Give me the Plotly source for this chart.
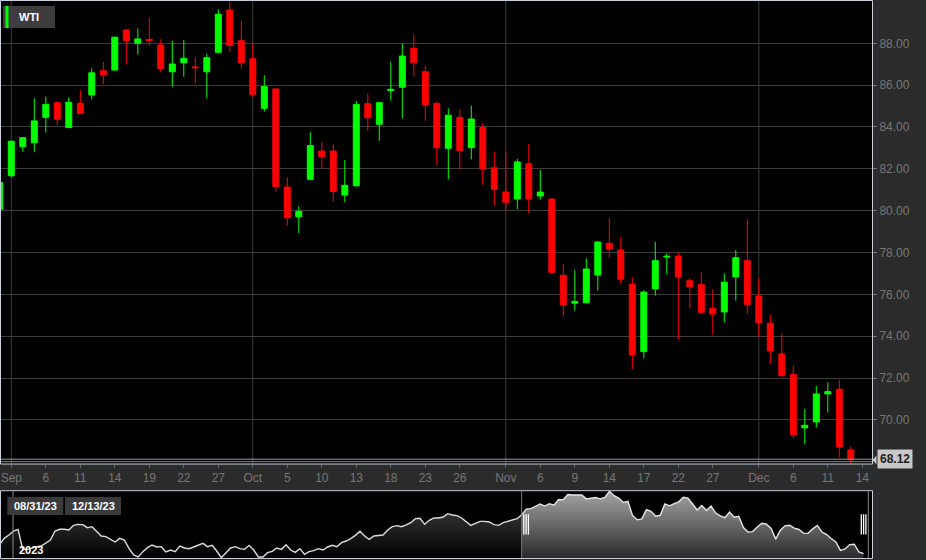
import numpy as np
import pandas as pd
import plotly.graph_objects as go

# ---------------- data ----------------
dates = pd.bdate_range("2023-08-31", "2023-12-13").strftime("%Y-%m-%d").tolist()

opens = [80.07, 81.67, 83.06, 83.25, 84.46, 85.16, 83.97, 85.13, 85.53, 86.69,
         86.72, 88.64, 88.00, 88.18, 87.92, 86.64, 87.07, 86.87, 86.64, 87.57,
         89.59, 88.12, 87.26, 84.89, 85.82, 81.13, 79.71, 81.50, 82.85, 82.85,
         80.75, 81.19, 85.11, 84.13, 85.74, 85.90, 87.76, 86.64, 85.13, 82.98,
         84.46, 83.01, 83.98, 82.05, 80.89, 80.56, 82.24, 80.70, 80.56, 76.91,
         75.58, 75.60, 76.92, 78.44, 78.12, 76.48, 73.26, 76.26, 77.78, 77.83,
         76.65, 76.48, 75.33, 75.16, 76.83, 77.61, 75.92, 74.62, 73.15, 72.18,
         69.62, 69.90, 71.24, 71.46, 68.56]
highs = [81.50, 83.35, 83.52, 85.37, 85.45, 85.20, 85.42, 85.77, 86.80, 87.11,
         88.32, 88.66, 88.72, 89.20, 88.19, 88.11, 88.16, 87.33, 87.49, 89.62,
         89.98, 89.07, 88.00, 86.47, 85.85, 81.59, 80.22, 83.75, 83.27, 83.17,
         82.42, 85.24, 85.58, 85.20, 87.11, 88.00, 88.40, 86.91, 85.21, 84.89,
         84.85, 85.02, 84.18, 82.79, 82.82, 82.47, 83.19, 81.94, 80.60, 77.45,
         77.16, 77.72, 78.56, 79.63, 78.73, 76.81, 76.19, 78.50, 77.96, 78.01,
         76.77, 77.08, 76.24, 77.00, 78.12, 79.59, 76.77, 75.01, 74.14, 72.59,
         70.52, 71.62, 71.80, 71.90, 68.72]
lows = [79.90, 81.60, 82.82, 82.82, 83.73, 84.09, 83.95, 84.60, 85.32, 86.04,
        86.70, 86.99, 87.47, 87.87, 86.61, 85.93, 86.40, 86.09, 85.37, 87.55,
        87.57, 86.80, 85.42, 84.73, 80.91, 79.28, 78.92, 81.45, 82.02, 80.43,
        80.40, 81.15, 83.81, 83.34, 85.26, 84.41, 86.40, 84.30, 82.18, 81.50,
        81.98, 82.45, 81.23, 80.24, 80.00, 80.07, 79.87, 80.54, 77.00, 74.93,
        75.22, 75.58, 76.18, 77.77, 76.48, 72.42, 72.94, 75.94, 76.96, 73.85,
        75.33, 75.12, 74.09, 74.66, 75.70, 75.09, 73.95, 72.67, 72.06, 69.12,
        68.83, 69.64, 70.36, 68.21, 67.90]
closes = [81.34, 83.32, 83.49, 84.29, 85.08, 84.37, 85.18, 84.65, 86.59, 86.48,
          88.29, 88.12, 88.21, 88.14, 86.80, 87.01, 87.28, 86.83, 87.31, 89.39,
          87.90, 87.07, 85.56, 85.93, 81.15, 79.66, 79.97, 83.11, 82.58, 80.91,
          81.21, 85.08, 84.44, 85.16, 85.80, 87.39, 87.07, 85.05, 83.01, 84.56,
          82.87, 84.38, 81.99, 81.02, 80.40, 82.33, 80.56, 80.89, 77.05, 75.49,
          75.66, 77.21, 78.50, 78.17, 76.72, 73.10, 76.11, 77.61, 77.82, 76.83,
          76.37, 75.14, 75.06, 76.58, 77.75, 75.52, 74.65, 73.29, 72.11, 69.28,
          69.74, 71.24, 71.35, 68.70, 68.12]

# navigator history (daily closes before the selected window)
nav_history = [71.31, 73.36, 74.50, 75.86, 76.43, 69.61, 69.61, 70.18, 70.52, 70.75,
               71.66, 72.79, 75.86, 76.43, 76.43, 76.20, 77.79, 78.13, 78.02, 77.00,
               77.34, 75.63, 74.16, 73.93, 73.02, 72.11, 73.36, 72.79, 69.95, 67.68,
               67.00, 68.82, 70.18, 71.09, 70.41, 70.52, 68.70, 69.38, 68.82, 70.75,
               70.07, 69.84, 70.41, 70.97, 71.66, 70.52, 70.97, 69.04, 66.77, 68.47,
               70.07, 70.52, 69.84, 69.61, 70.97, 69.38, 67.00, 67.00, 68.47, 68.93,
               70.07, 69.61, 71.20, 69.38, 68.59, 69.84, 67.91, 68.82, 69.16, 69.84,
               69.38, 70.41, 70.97, 70.52, 71.89, 72.45, 73.25, 74.38, 75.75, 74.16,
               73.02, 74.16, 74.38, 74.50, 76.20, 77.34, 77.68, 77.34, 77.91, 78.70,
               80.06, 80.18, 78.13, 79.49, 80.29, 80.29, 80.63, 81.77, 81.31, 81.09,
               80.29, 78.93, 77.79, 78.47, 79.15, 79.15, 78.93, 78.02, 77.79, 78.70,
               79.15, 79.61, 80.06]

tick_dates = ["2023-09-01", "2023-09-06", "2023-09-11", "2023-09-14", "2023-09-19",
              "2023-09-22", "2023-09-27", "2023-10-02", "2023-10-05", "2023-10-10",
              "2023-10-13", "2023-10-18", "2023-10-23", "2023-10-26", "2023-11-01",
              "2023-11-06", "2023-11-09", "2023-11-14", "2023-11-17", "2023-11-22",
              "2023-11-27", "2023-12-01", "2023-12-06", "2023-12-11", "2023-12-14"]
tick_labels = ["Sep", "6", "11", "14", "19", "22", "27", "Oct", "5", "10", "13", "18",
               "23", "26", "Nov", "6", "9", "14", "17", "22", "27", "Dec", "6", "11", "14"]
month_starts = ["2023-09-01", "2023-10-02", "2023-11-01", "2023-12-01"]
price_ticks = [70, 72, 74, 76, 78, 80, 82, 84, 86, 88]

# ---------------- layout helpers ----------------
W, H = 926, 560
ML, MR, MT, MB = 1, 54, 1, 2
PW, PH = W - ML - MR, H - MT - MB


def px_x(px):
    return (px - ML) / PW


def px_y(py):
    return (H - MB - py) / PH


x_idx = list(range(len(dates)))
tick_idx = [int(np.busday_count(dates[0], d)) for d in tick_dates]
month_idx = [int(np.busday_count(dates[0], d)) for d in month_starts]

n_hist = len(nav_history)
nav_hist_x = list(range(n_hist + 1))
nav_hist_y = nav_history + [closes[0]]
nav_sel_x = list(range(n_hist, n_hist + len(closes)))

FONT = "Liberation Sans, Arial, sans-serif"
BORDER = "#c8d0e0"

fig = go.Figure()

fig.add_trace(go.Candlestick(
    x=x_idx, open=opens, high=highs, low=lows, close=closes,
    increasing=dict(line=dict(color="#00ff00", width=1), fillcolor="#00ff00"),
    decreasing=dict(line=dict(color="#ff0000", width=1), fillcolor="#ff0000"),
    whiskerwidth=0, showlegend=False, name="WTI",
    xaxis="x", yaxis="y", hoverinfo="skip",
))

fig.add_trace(go.Scatter(
    x=nav_hist_x, y=nav_hist_y, mode="lines",
    line=dict(color="#dcdcdc", width=1.4), fill="tozeroy",
    fillgradient=dict(type="vertical", colorscale=[[0, "#000000"], [1, "#4a4a4a"]],
                      start=66.66, stop=89.59),
    xaxis="x2", yaxis="y2", showlegend=False, hoverinfo="skip",
))
fig.add_trace(go.Scatter(
    x=nav_sel_x, y=closes, mode="lines",
    line=dict(color="#e6e6e6", width=1.4), fill="tozeroy",
    fillgradient=dict(type="vertical", colorscale=[[0, "#2a2a2a"], [1, "#a6a6a6"]],
                      start=66.66, stop=89.59),
    xaxis="x2", yaxis="y2", showlegend=False, hoverinfo="skip",
))

main_bottom = px_y(464)
nav_top = px_y(490.7)

shapes = []
for m in month_idx:
    shapes.append(dict(type="line", xref="x", yref="paper", x0=m, x1=m,
                       y0=main_bottom, y1=1, line=dict(color="#3c3c3c", width=1), layer="below"))
shapes.append(dict(type="line", xref="paper", yref="y", x0=0, x1=1, y0=68, y1=68,
                   line=dict(color="#8a8a8a", width=1)))
shapes.append(dict(type="line", xref="paper", yref="y", x0=0, x1=1, y0=closes[-1], y1=closes[-1],
                   line=dict(color="#9a9a9a", width=1)))
shapes.append(dict(type="rect", xref="paper", yref="paper", x0=px_x(0.5), x1=px_x(872.5),
                   y0=main_bottom, y1=px_y(0.5), line=dict(color=BORDER, width=1)))
shapes.append(dict(type="rect", xref="paper", yref="paper", x0=px_x(0.5), x1=px_x(872.5),
                   y0=px_y(558.5), y1=nav_top, line=dict(color=BORDER, width=1)))
shapes.append(dict(type="line", xref="paper", yref="paper", x0=px_x(13), x1=px_x(13),
                   y0=px_y(558), y1=nav_top, line=dict(color="#8a8a8a", width=1)))
shapes.append(dict(type="line", xref="x2", yref="paper", x0=n_hist, x1=n_hist,
                   y0=px_y(558), y1=nav_top, line=dict(color="#777777", width=1)))
shapes.append(dict(type="line", xref="paper", yref="paper", x0=px_x(868.3), x1=px_x(868.3),
                   y0=px_y(558), y1=nav_top, line=dict(color="#888888", width=1)))
for hx in (523.8, 861.3):
    for k in range(3):
        xx = hx + k * 2.3
        shapes.append(dict(type="line", xref="paper", yref="paper", x0=px_x(xx), x1=px_x(xx),
                           y0=px_y(534.5), y1=px_y(514.3), line=dict(color="#ffffff", width=1.3)))
shapes.append(dict(type="rect", xref="paper", yref="paper", x0=px_x(3), x1=px_x(55),
                   y0=px_y(28), y1=px_y(6), fillcolor="#3d3d3d", line=dict(width=0)))
shapes.append(dict(type="rect", xref="paper", yref="paper", x0=px_x(5.5), x1=px_x(8.5),
                   y0=px_y(28), y1=px_y(6), fillcolor="#00ff00", line=dict(width=0)))
for x0, x1 in ((7.3, 63.3), (65, 121)):
    shapes.append(dict(type="rect", xref="paper", yref="paper", x0=px_x(x0), x1=px_x(x1),
                       y0=px_y(515), y1=px_y(497), fillcolor="#3a3a3a", line=dict(width=0)))
shapes.append(dict(type="path", xref="paper", yref="paper",
                   path=f"M {px_x(872.5)},{px_y(460)} L {px_x(876.5)},{px_y(455.5)} "
                        f"L {px_x(876.5)},{px_y(464.5)} Z",
                   fillcolor="#c8c8c8", line=dict(width=0)))

annotations = [
    dict(text="<b>WTI</b>", xref="paper", yref="paper", x=px_x(29), y=px_y(17.5),
         xanchor="center", yanchor="middle",
         showarrow=False, font=dict(family=FONT, size=11, color="#ffffff")),
    dict(text="<b>08/31/23</b>", xref="paper", yref="paper", x=px_x(35.3), y=px_y(506),
         xanchor="center", yanchor="middle",
         showarrow=False, font=dict(family=FONT, size=11, color="#ffffff")),
    dict(text="<b>12/13/23</b>", xref="paper", yref="paper", x=px_x(93), y=px_y(506),
         xanchor="center", yanchor="middle",
         showarrow=False, font=dict(family=FONT, size=11, color="#ffffff")),
    dict(text="<b>2023</b>", xref="paper", yref="paper", x=px_x(31), y=px_y(550),
         xanchor="center", yanchor="middle",
         showarrow=False, font=dict(family=FONT, size=11, color="#ffffff")),
    dict(text=f"<b>{closes[-1]:.2f}</b>", xref="paper", yref="y", x=px_x(876.5), y=closes[-1],
         xanchor="left", yanchor="middle", showarrow=False, bgcolor="#c8c8c8", borderpad=2,
         font=dict(family=FONT, size=12, color="#1e1e1e")),
]

fig.update_layout(
    width=W, height=H,
    margin=dict(l=ML, r=MR, t=MT, b=MB),
    paper_bgcolor="#2b2b2b", plot_bgcolor="#000000",
    showlegend=False,
    boxgap=0.26,
    font=dict(family=FONT, size=12, color="#777777"),
    xaxis=dict(domain=[0, 1], anchor="y", range=[1.2 / 11.5, 872.2 / 11.5],
               tickmode="array", tickvals=tick_idx, ticktext=tick_labels,
               showgrid=False, zeroline=False, ticks="outside", ticklen=3,
               tickcolor="#666666", tickfont=dict(family=FONT, size=12, color="#777777"),
               rangeslider=dict(visible=False), showline=False, fixedrange=True),
    yaxis=dict(domain=[main_bottom, 1], anchor="x", side="right",
               range=[67.89, 90.022], tickmode="array", tickvals=price_ticks,
               ticktext=[f"{v:.2f}" for v in price_ticks],
               showgrid=True, gridcolor="#3c3c3c", gridwidth=1, zeroline=False,
               ticks="outside", ticklen=4, tickcolor="#777777",
               tickfont=dict(family=FONT, size=12, color="#777777"), fixedrange=True),
    xaxis2=dict(domain=[0, 1], anchor="y2", range=[1.4 / 4.62, 872.4 / 4.62], visible=False),
    yaxis2=dict(domain=[0, nav_top], anchor="x2", range=[66.66, 89.59], visible=False),
    shapes=shapes,
    annotations=annotations,
)

fig.write_html("out.html",
               config={"displayModeBar": False},
               post_script="document.body.style.margin='0';document.body.style.padding='0';"
                           "document.body.style.overflow='hidden';")
